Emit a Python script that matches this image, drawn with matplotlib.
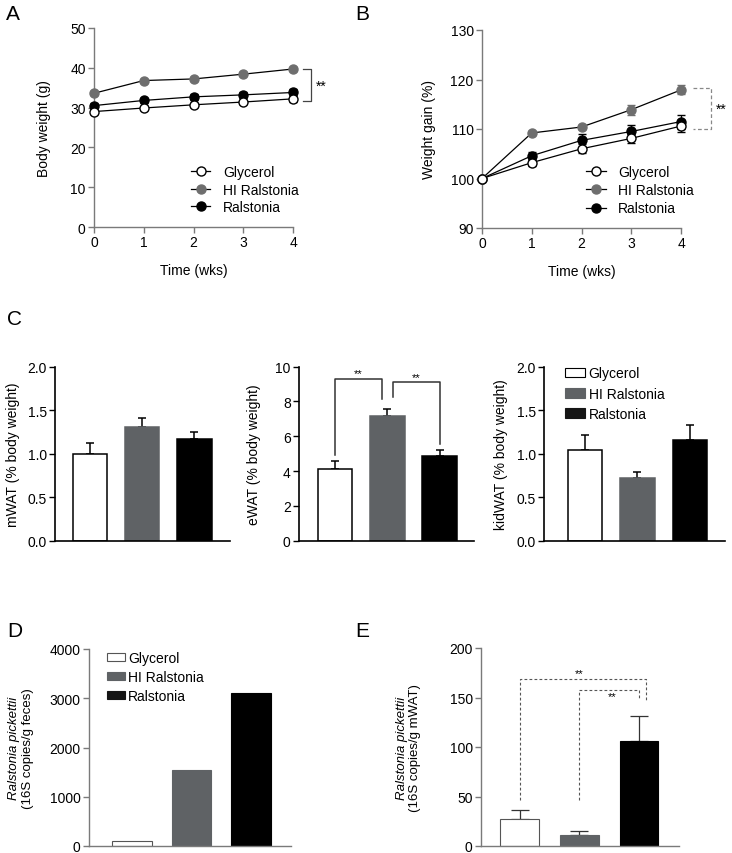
import matplotlib.pyplot as plt
import numpy as np
from matplotlib.lines import Line2D
from matplotlib.patches import Patch

plt.rcParams['font.family'] = ['Liberation Sans', 'DejaVu Sans']
plt.rcParams['font.size'] = 10

W, H = 732, 854

groups = ["Glycerol", "HI Ralstonia", "Ralstonia"]
weeks = [0, 1, 2, 3, 4]

# A: body weight (g)
bw_gly = [29.0, 29.9, 30.7, 31.4, 32.2]
bw_gly_err = [0.5, 0.5, 0.5, 0.6, 0.9]
bw_hi = [33.6, 36.8, 37.2, 38.4, 39.7]
bw_hi_err = [0.5, 0.4, 0.4, 0.5, 0.5]
bw_ral = [30.5, 31.8, 32.7, 33.2, 33.8]
bw_ral_err = [0.6, 0.7, 0.8, 0.8, 0.9]

# B: weight gain (%)
wg_gly = [100.0, 103.2, 106.0, 108.1, 110.6]
wg_gly_err = [0.0, 0.6, 0.9, 0.9, 1.2]
wg_hi = [100.0, 109.2, 110.4, 113.9, 117.9]
wg_hi_err = [0.0, 0.4, 0.5, 1.0, 0.9]
wg_ral = [100.0, 104.6, 107.7, 109.5, 111.5]
wg_ral_err = [0.0, 0.7, 1.3, 1.4, 1.4]

# C: fat pads (% body weight)
mwat = [0.99, 1.31, 1.165]
mwat_err = [0.13, 0.10, 0.08]
ewat = [4.13, 7.18, 4.88]
ewat_err = [0.44, 0.38, 0.31]
kidwat = [1.046, 0.716, 1.153]
kidwat_err = [0.17, 0.07, 0.17]

# D / E: Ralstonia pickettii 16S copies
feces = [100, 1553, 3100]
mwat_copies = [27.7, 10.8, 105.7]
mwat_copies_err = [9.1, 4.4, 25.7]

WHITE, GREY, BLACK = "white", "#5f6265", "black"
bar_colors = [WHITE, GREY, BLACK]
SPINE = "#7a7a7a"


def px_axes(fig, left, top, right, bottom):
    return fig.add_axes([left / W, 1 - bottom / H, (right - left) / W, (bottom - top) / H])


def style(ax, color, xticks=True):
    for s in ["top", "right"]:
        ax.spines[s].set_visible(False)
    for s in ["left", "bottom"]:
        ax.spines[s].set_color(color)
        ax.spines[s].set_linewidth(1.0)
    ax.tick_params(colors=color, labelcolor="black", length=4, width=1, labelsize=10, pad=2)
    if not xticks:
        ax.set_xticks([])


fig = plt.figure(figsize=(W / 100, H / 100), dpi=100)

# ---------------- A ----------------
ax = px_axes(fig, 94, 29, 293, 228)
style(ax, SPINE)
series = [(bw_ral, bw_ral_err, BLACK, BLACK, 3),
          (bw_hi, bw_hi_err, "#6e6e6e", "#6e6e6e", 4),
          (bw_gly, bw_gly_err, WHITE, BLACK, 5)]
for y, e, fc, ec, z in series:
    ax.errorbar(weeks, y, yerr=e, color="black", ecolor=ec, lw=0.9, elinewidth=0.9, capsize=3,
                marker="o", ms=6.5, mfc=fc, mec=ec, mew=1, zorder=z, clip_on=False)
ax.set_xlim(0, 4)
ax.set_ylim(0, 50)
ax.set_xticks(weeks)
ax.set_yticks(range(0, 51, 10))
ax.set_xlabel("Time (wks)")
ax.set_ylabel("Body weight (g)")
ax.yaxis.set_label_coords(-0.216, 0.5)
ax.xaxis.set_label_coords(0.5, -0.18)
ax.plot([4.2, 4.36, 4.36, 4.2], [39.6, 39.6, 31.6, 31.6], color="#444", lw=0.9, clip_on=False)
ax.text(4.45, 35.6, "**", fontsize=10, va="center", ha="left", clip_on=False)
handles = [Line2D([], [], color="black", lw=0.9, marker="o", ms=6.5, mfc=WHITE, mec=BLACK),
           Line2D([], [], color="black", lw=0.9, marker="o", ms=6.5, mfc="#6e6e6e", mec="#6e6e6e"),
           Line2D([], [], color="black", lw=0.9, marker="o", ms=6.5, mfc=BLACK, mec=BLACK)]
ax.legend(handles, groups, loc="upper left", bbox_to_anchor=(0.487, 0.31), frameon=False,
          borderpad=0, borderaxespad=0, handlelength=1.4, handletextpad=0.9, labelspacing=0.25)

# ---------------- B ----------------
ax = px_axes(fig, 482, 31, 681, 229)
style(ax, SPINE)
series = [(wg_ral, wg_ral_err, BLACK, BLACK, 3),
          (wg_hi, wg_hi_err, "#6e6e6e", "#6e6e6e", 4),
          (wg_gly, wg_gly_err, WHITE, BLACK, 5)]
for y, e, fc, ec, z in series:
    ax.errorbar(weeks, y, yerr=e, color="black", ecolor=ec, lw=0.9, elinewidth=0.9, capsize=3,
                marker="o", ms=6.5, mfc=fc, mec=ec, mew=1, zorder=z, clip_on=False)
ax.set_xlim(0, 4)
ax.set_ylim(90, 130)
ax.set_xticks(weeks)
ax.set_yticks(range(90, 131, 10))
ax.set_xlabel("Time (wks)")
ax.set_ylabel("Weight gain (%)")
ax.yaxis.set_label_coords(-0.231, 0.5)
ax.xaxis.set_label_coords(0.5, -0.18)
ax.plot([4.24, 4.6, 4.6, 4.24], [118.2, 118.2, 110.0, 110.0], color="#888", lw=0.9,
        ls=(0, (3, 2)), clip_on=False)
ax.text(4.7, 114.1, "**", fontsize=10, va="center", ha="left", clip_on=False)
ax.legend(handles, groups, loc="upper left", bbox_to_anchor=(0.523, 0.318), frameon=False,
          borderpad=0, borderaxespad=0, handlelength=1.4, handletextpad=0.9, labelspacing=0.3)

# ---------------- C ----------------
xpos = np.arange(3)
c_panels = [((55, 230), (-0.67, 2.68), mwat, mwat_err, 2.0, 0.5, "mWAT (% body weight)", -0.2),
            ((299, 474), (-0.69, 2.66), ewat, ewat_err, 10, 2, "eWAT (% body weight)", -0.217),
            ((544, 725), (-0.78, 2.67), kidwat, kidwat_err, 2.0, 0.5, "kidWAT (% body weight)", -0.2)]
c_axes = []
for (l, r), xl, vals, errs, ymax, step, lab, lx in c_panels:
    ax = px_axes(fig, l, 367.5, r, 541.7)
    style(ax, "black", xticks=False)
    ax.spines["left"].set_linewidth(1.2)
    ax.spines["bottom"].set_linewidth(1.2)
    ax.bar(xpos, vals, width=0.66, color=bar_colors, edgecolor=["black", GREY, "black"], lw=1.1, zorder=2)
    ax.errorbar(xpos, vals, yerr=[np.zeros(3), errs], fmt="none", ecolor="black",
                elinewidth=1.1, capsize=3.2, capthick=1.1, zorder=1)
    ax.set_xlim(*xl)
    ax.set_ylim(0, ymax)
    ticks = np.arange(0, ymax + step / 2, step)
    ax.set_yticks(ticks)
    if ymax == 2.0:
        ax.set_yticklabels([f"{t:.1f}" for t in ticks])
    ax.set_ylabel(lab)
    ax.yaxis.set_label_coords(lx, 0.5)
    c_axes.append(ax)

ax = c_axes[1]
ax.plot([0, 0, 0.9, 0.9], [4.94, 9.28, 9.28, 8.13], color="#333", lw=1.1, clip_on=False)
ax.plot([1.1, 1.1, 2, 2], [8.23, 9.09, 9.09, 5.55], color="#333", lw=1.1, clip_on=False)
ax.text(0.45, 9.6, "**", fontsize=8, ha="center", va="center")
ax.text(1.55, 9.42, "**", fontsize=8, ha="center", va="center")

ax = c_axes[2]
patches = [Patch(facecolor=WHITE, edgecolor="black", lw=0.8),
           Patch(facecolor=GREY, edgecolor=GREY, lw=0.8),
           Patch(facecolor="#151515", edgecolor="#151515", lw=0.8)]
ax.legend(patches, groups, loc="upper left", bbox_to_anchor=(0.116, 1.0), frameon=False,
          borderpad=0, borderaxespad=0, handlelength=1.45, handleheight=0.65,
          handletextpad=0.25, labelspacing=0.45)

# ---------------- D ----------------
ax = px_axes(fig, 89, 650, 291, 847)
style(ax, SPINE, xticks=False)
ax.bar(xpos, feces, width=0.66, color=bar_colors, edgecolor=["#555", GREY, "black"], lw=0.8)
ax.set_xlim(-0.72, 2.67)
ax.set_ylim(0, 4000)
ax.set_yticks(range(0, 4001, 1000))
ax.text(-0.37, 0.5, "Ralstonia pickettii", style="italic", rotation=90, ha="center", va="center",
        transform=ax.transAxes, fontsize=9.5)
ax.text(-0.302, 0.5, "(16S copies/g feces)", rotation=90, ha="center", va="center",
        transform=ax.transAxes, fontsize=9.5)
patches = [Patch(facecolor=WHITE, edgecolor="#555", lw=0.8),
           Patch(facecolor=GREY, edgecolor=GREY, lw=0.8),
           Patch(facecolor="#151515", edgecolor="#151515", lw=0.8)]
ax.legend(patches, groups, loc="upper left", bbox_to_anchor=(0.089, 0.99), frameon=False,
          borderpad=0, borderaxespad=0, handlelength=1.3, handleheight=0.55,
          handletextpad=0.2, labelspacing=0.35)

# ---------------- E ----------------
ax = px_axes(fig, 481, 649, 679, 847)
style(ax, SPINE, xticks=False)
ax.bar(xpos, mwat_copies, width=0.65, color=bar_colors, edgecolor=["#555", GREY, "black"], lw=0.8, zorder=2)
ax.errorbar(xpos, mwat_copies, yerr=[np.zeros(3), mwat_copies_err], fmt="none", ecolor="#333",
            elinewidth=0.9, capsize=6.5, capthick=0.9, zorder=1)
ax.set_xlim(-0.65, 2.67)
ax.set_ylim(0, 200)
ax.set_yticks(range(0, 201, 50))
ax.text(-0.398, 0.5, "Ralstonia pickettii", style="italic", rotation=90, ha="center", va="center",
        transform=ax.transAxes, fontsize=9.5)
ax.text(-0.332, 0.5, "(16S copies/g mWAT)", rotation=90, ha="center", va="center",
        transform=ax.transAxes, fontsize=9.5)
dash = (0, (2.5, 2))
ax.plot([0, 0, 2.12, 2.12], [46.6, 169, 169, 147], color="#555", lw=0.8, ls=dash)
ax.plot([1, 1, 2.0, 2.0], [46.6, 157.4, 157.4, 147], color="#555", lw=0.8, ls=dash)
ax.text(1.0, 175, "**", fontsize=8, ha="center", va="center")
ax.text(1.55, 151, "**", fontsize=8, ha="center", va="center")

# panel letters
for letter, x, y in [("A", 6, 5), ("B", 355, 5), ("C", 7, 310), ("D", 7, 622), ("E", 355, 622)]:
    fig.text(x / W, 1 - y / H, letter, fontsize=15, ha="left", va="top")

fig.savefig("out.png", dpi=100)
